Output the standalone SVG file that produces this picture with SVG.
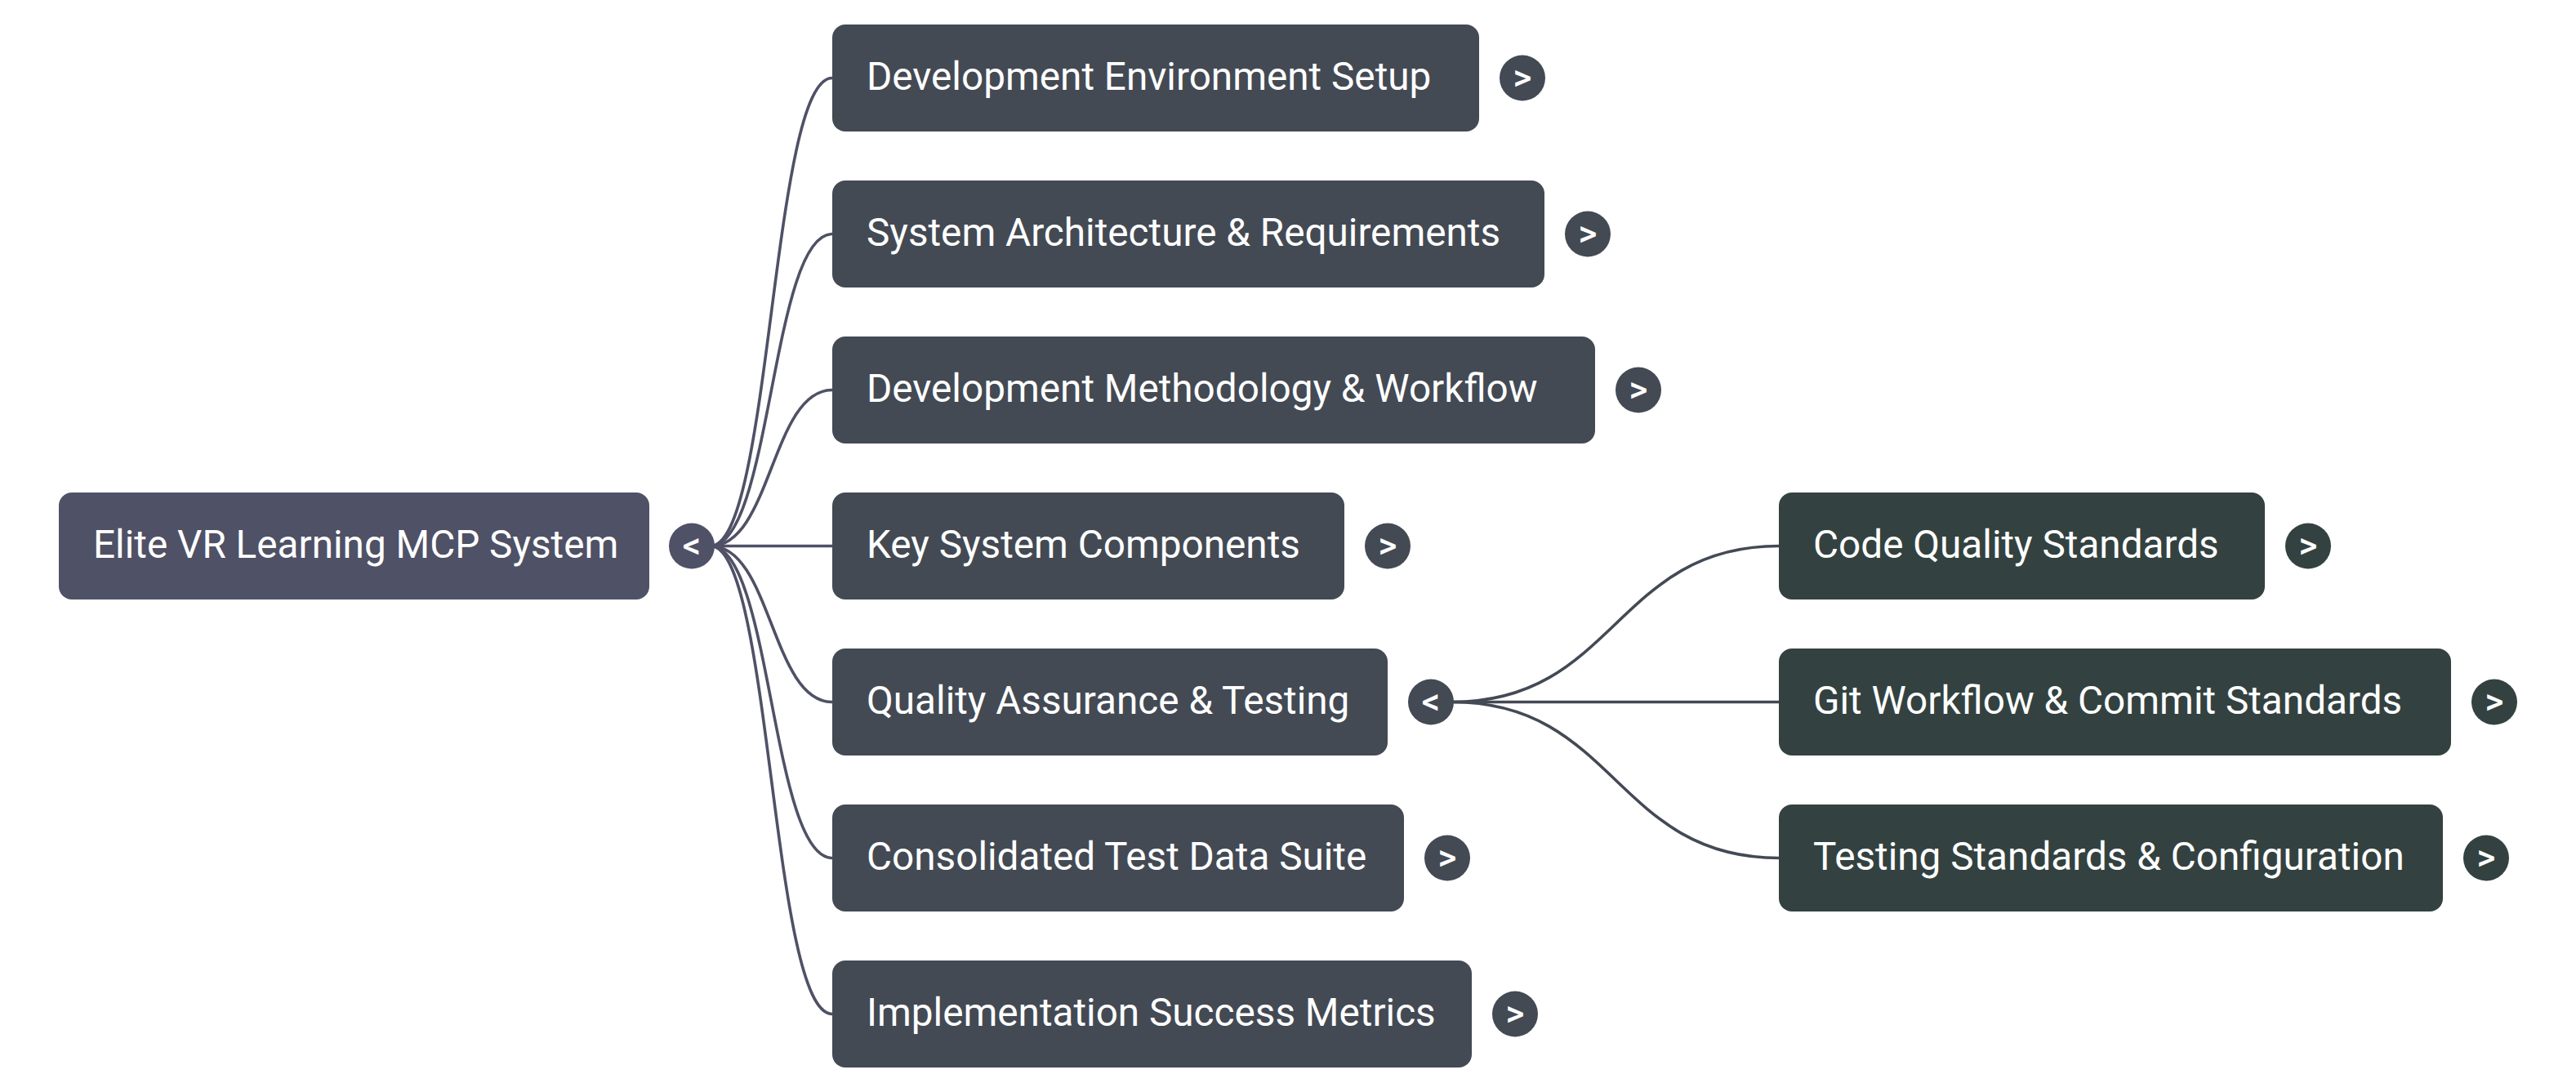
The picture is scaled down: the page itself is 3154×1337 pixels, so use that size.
<svg xmlns="http://www.w3.org/2000/svg" width="3154" height="1337" viewBox="0 0 3154 1337">
<style>
.lbl{font-family:Roboto,"Liberation Sans",Arial,sans-serif;font-size:47.7px;fill:#ffffff}
.tog{font-family:Roboto,"Liberation Sans",Arial,sans-serif;font-size:44px;fill:#ffffff;text-anchor:middle;font-weight:500}
.root{fill:#4f5166}
.l1{fill:#434a54}
.l2{fill:#334240}
.c0{fill:none;stroke:#4f5166;stroke-width:3.6}
.c1{fill:none;stroke:#434a54;stroke-width:3.6}
</style>
<rect width="3154" height="1337" fill="#ffffff"/>
<g id="connectors">
<path class="c0" d="M870,668.5 C944.5,668.5 944.5,95.5 1019,95.5"/>
<path class="c0" d="M870,668.5 C944.5,668.5 944.5,286.5 1019,286.5"/>
<path class="c0" d="M870,668.5 C944.5,668.5 944.5,477.5 1019,477.5"/>
<path class="c0" d="M870,668.5 L1019,668.5"/>
<path class="c0" d="M870,668.5 C944.5,668.5 944.5,859.5 1019,859.5"/>
<path class="c0" d="M870,668.5 C944.5,668.5 944.5,1050.5 1019,1050.5"/>
<path class="c0" d="M870,668.5 C944.5,668.5 944.5,1241.5 1019,1241.5"/>
<path class="c1" d="M1778,859.5 C1978,859.5 1978,668.5 2178,668.5"/>
<path class="c1" d="M1778,859.5 L2178,859.5"/>
<path class="c1" d="M1778,859.5 C1978,859.5 1978,1050.5 2178,1050.5"/>
</g>
<g id="root">
<rect class="root" x="72" y="603" width="723" height="131" rx="16"/>
<text class="lbl" x="114" y="682.5">Elite VR Learning MCP System</text>
<circle class="root" cx="847" cy="668.5" r="28"/>
<text class="tog" x="847" y="683">&lt;</text>
</g>
<g id="n1">
<rect class="l1" x="1019" y="30" width="792" height="131" rx="16"/>
<text class="lbl" x="1061" y="109.5">Development Environment Setup</text>
<circle class="l1" cx="1864" cy="95.5" r="28"/>
<text class="tog" x="1864" y="110">&gt;</text>
</g>
<g id="n2">
<rect class="l1" x="1019" y="221" width="872" height="131" rx="16"/>
<text class="lbl" x="1061" y="300.5">System Architecture &amp; Requirements</text>
<circle class="l1" cx="1944" cy="286.5" r="28"/>
<text class="tog" x="1944" y="301">&gt;</text>
</g>
<g id="n3">
<rect class="l1" x="1019" y="412" width="934" height="131" rx="16"/>
<text class="lbl" x="1061" y="491.5">Development Methodology &amp; Workflow</text>
<circle class="l1" cx="2006" cy="477.5" r="28"/>
<text class="tog" x="2006" y="492">&gt;</text>
</g>
<g id="n4">
<rect class="l1" x="1019" y="603" width="627" height="131" rx="16"/>
<text class="lbl" x="1061" y="682.5">Key System Components</text>
<circle class="l1" cx="1699" cy="668.5" r="28"/>
<text class="tog" x="1699" y="683">&gt;</text>
</g>
<g id="n5">
<rect class="l1" x="1019" y="794" width="680" height="131" rx="16"/>
<text class="lbl" x="1061" y="873.5">Quality Assurance &amp; Testing</text>
<circle class="l1" cx="1752" cy="859.5" r="28"/>
<text class="tog" x="1752" y="874">&lt;</text>
</g>
<g id="n6">
<rect class="l1" x="1019" y="985" width="700" height="131" rx="16"/>
<text class="lbl" x="1061" y="1064.5">Consolidated Test Data Suite</text>
<circle class="l1" cx="1772" cy="1050.5" r="28"/>
<text class="tog" x="1772" y="1065">&gt;</text>
</g>
<g id="n7">
<rect class="l1" x="1019" y="1176" width="783" height="131" rx="16"/>
<text class="lbl" x="1061" y="1255.5">Implementation Success Metrics</text>
<circle class="l1" cx="1855" cy="1241.5" r="28"/>
<text class="tog" x="1855" y="1256">&gt;</text>
</g>
<g id="n5a">
<rect class="l2" x="2178" y="603" width="595" height="131" rx="16"/>
<text class="lbl" x="2220" y="682.5">Code Quality Standards</text>
<circle class="l2" cx="2826" cy="668.5" r="28"/>
<text class="tog" x="2826" y="683">&gt;</text>
</g>
<g id="n5b">
<rect class="l2" x="2178" y="794" width="823" height="131" rx="16"/>
<text class="lbl" x="2220" y="873.5">Git Workflow &amp; Commit Standards</text>
<circle class="l2" cx="3054" cy="859.5" r="28"/>
<text class="tog" x="3054" y="874">&gt;</text>
</g>
<g id="n5c">
<rect class="l2" x="2178" y="985" width="813" height="131" rx="16"/>
<text class="lbl" x="2220" y="1064.5">Testing Standards &amp; Configuration</text>
<circle class="l2" cx="3044" cy="1050.5" r="28"/>
<text class="tog" x="3044" y="1065">&gt;</text>
</g>
</svg>
